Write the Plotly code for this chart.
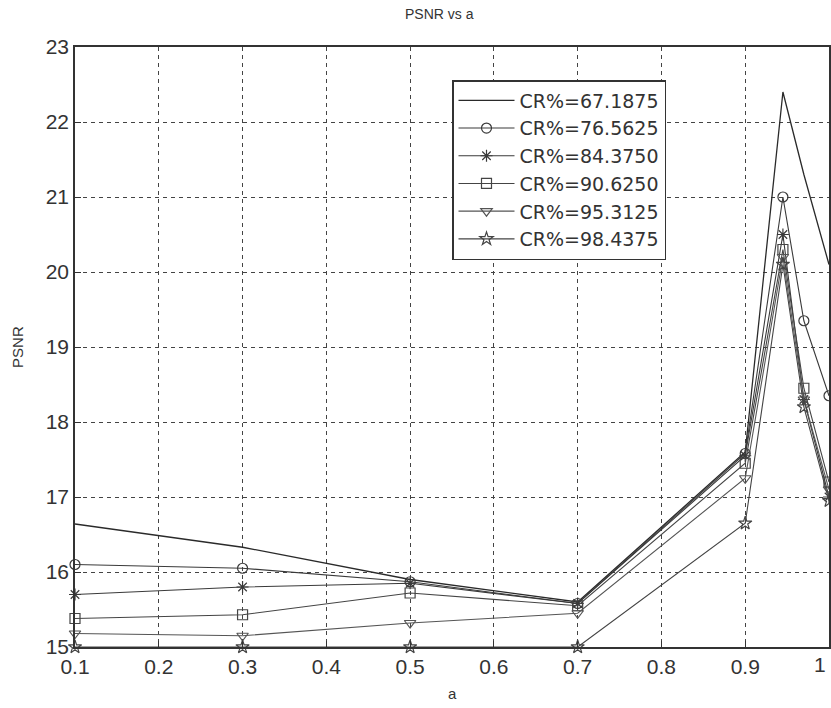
import plotly.graph_objects as go

a_vals = [0.1, 0.3, 0.5, 0.7, 0.9, 0.945, 0.97, 1.0]
names = ["CR%=67.1875", "CR%=76.5625", "CR%=84.3750", "CR%=90.6250", "CR%=95.3125", "CR%=98.4375"]
psnr_67 = [16.64, 16.33, 15.90, 15.60, 17.60, 22.40, 21.30, 20.10]
psnr_76 = [16.10, 16.05, 15.87, 15.58, 17.58, 21.00, 19.35, 18.35]
psnr_84 = [15.70, 15.80, 15.85, 15.58, 17.55, 20.50, 18.30, 17.00]
psnr_90 = [15.38, 15.43, 15.72, 15.55, 17.45, 20.30, 18.45, 17.20]
psnr_95 = [15.18, 15.15, 15.32, 15.45, 17.25, 20.20, 18.30, 17.10]
psnr_98 = [15.00, 15.00, 15.00, 15.00, 16.65, 20.10, 18.20, 16.95]
series = [psnr_67, psnr_76, psnr_84, psnr_90, psnr_95, psnr_98]
symbols = [None, "circle-open", "asterisk-open", "square-open", "triangle-down-open", "star-open"]
colors = ["#2a2a2a", "#3a3a3a", "#3a3a3a", "#444444", "#555555", "#444444"]
x_ticks = [0.1, 0.2, 0.3, 0.4, 0.5, 0.6, 0.7, 0.8, 0.9]
x_tick_text = ["0.1", "0.2", "0.3", "0.4", "0.5", "0.6", "0.7", "0.8", "0.9"]
last_x_tick = 1.0
last_x_tick_text = "1"
y_ticks = [15, 16, 17, 18, 19, 20, 21, 22, 23]

fig = go.Figure()
for name, ys, sym, col in zip(names, series, symbols, colors):
    if sym is None:
        fig.add_trace(go.Scatter(x=a_vals, y=ys, name=name, mode="lines",
                                 line=dict(color=col, width=1.3), cliponaxis=False))
    else:
        fig.add_trace(go.Scatter(x=a_vals, y=ys, name=name, mode="lines+markers",
                                 line=dict(color=col, width=1.1),
                                 marker=dict(symbol=sym, size=10,
                                             line=dict(color=col, width=1.2)),
                                 cliponaxis=False))

font_fam = "Liberation Sans, Arial, sans-serif"
fig.update_layout(
    width=831, height=708,
    margin=dict(l=75, r=0, t=47, b=61),
    paper_bgcolor="white", plot_bgcolor="white",
    font=dict(family=font_fam, color="#333333", size=16),
    showlegend=True,
    legend=dict(x=0.5, y=0.945, xanchor="left", yanchor="top",
                bordercolor="#333333", borderwidth=1.5, bgcolor="white",
                font=dict(size=19, family="DejaVu Sans, sans-serif", color="#333333"),
                tracegroupgap=0, itemwidth=56),
    annotations=[
        dict(text="PSNR vs a", x=0.484, y=1.055, xref="paper", yref="paper",
             xanchor="center", yanchor="middle",
             showarrow=False, font=dict(size=14, color="#333333")),
        dict(text="PSNR", x=-0.077, y=0.5, xref="paper", yref="paper",
             xanchor="center", yanchor="middle",
             textangle=-90, showarrow=False, font=dict(size=15, color="#333333")),
        dict(text="a", x=0.5, y=-0.077, xref="paper", yref="paper",
             xanchor="center", yanchor="middle",
             showarrow=False, font=dict(size=15, color="#333333")),
        dict(text=last_x_tick_text, x=last_x_tick, y=15, xref="x", yref="y",
             xanchor="right", yanchor="top", yshift=-4, xshift=-1,
             showarrow=False, font=dict(size=21, color="#333333")),
    ],
)
fig.update_xaxes(range=[0.1, 1.0], tickvals=x_ticks + [last_x_tick],
                 ticktext=x_tick_text + [""],
                 showgrid=True, gridcolor="#444444", griddash="4px,4px", gridwidth=1,
                 showline=True, linecolor="#333333", linewidth=1.5, mirror=True,
                 ticks="inside", ticklen=6, tickcolor="#333333",
                 zeroline=False, tickfont=dict(size=21))
fig.update_yaxes(range=[15, 23], tickvals=y_ticks,
                 showgrid=True, gridcolor="#444444", griddash="4px,4px", gridwidth=1,
                 showline=True, linecolor="#333333", linewidth=1.5, mirror=True,
                 ticks="inside", ticklen=6, tickcolor="#333333",
                 zeroline=False, tickfont=dict(size=21))

fig.write_html("out.html", config={"displayModeBar": False},
               post_script="document.body.style.margin='0px';document.body.style.overflow='hidden';")
